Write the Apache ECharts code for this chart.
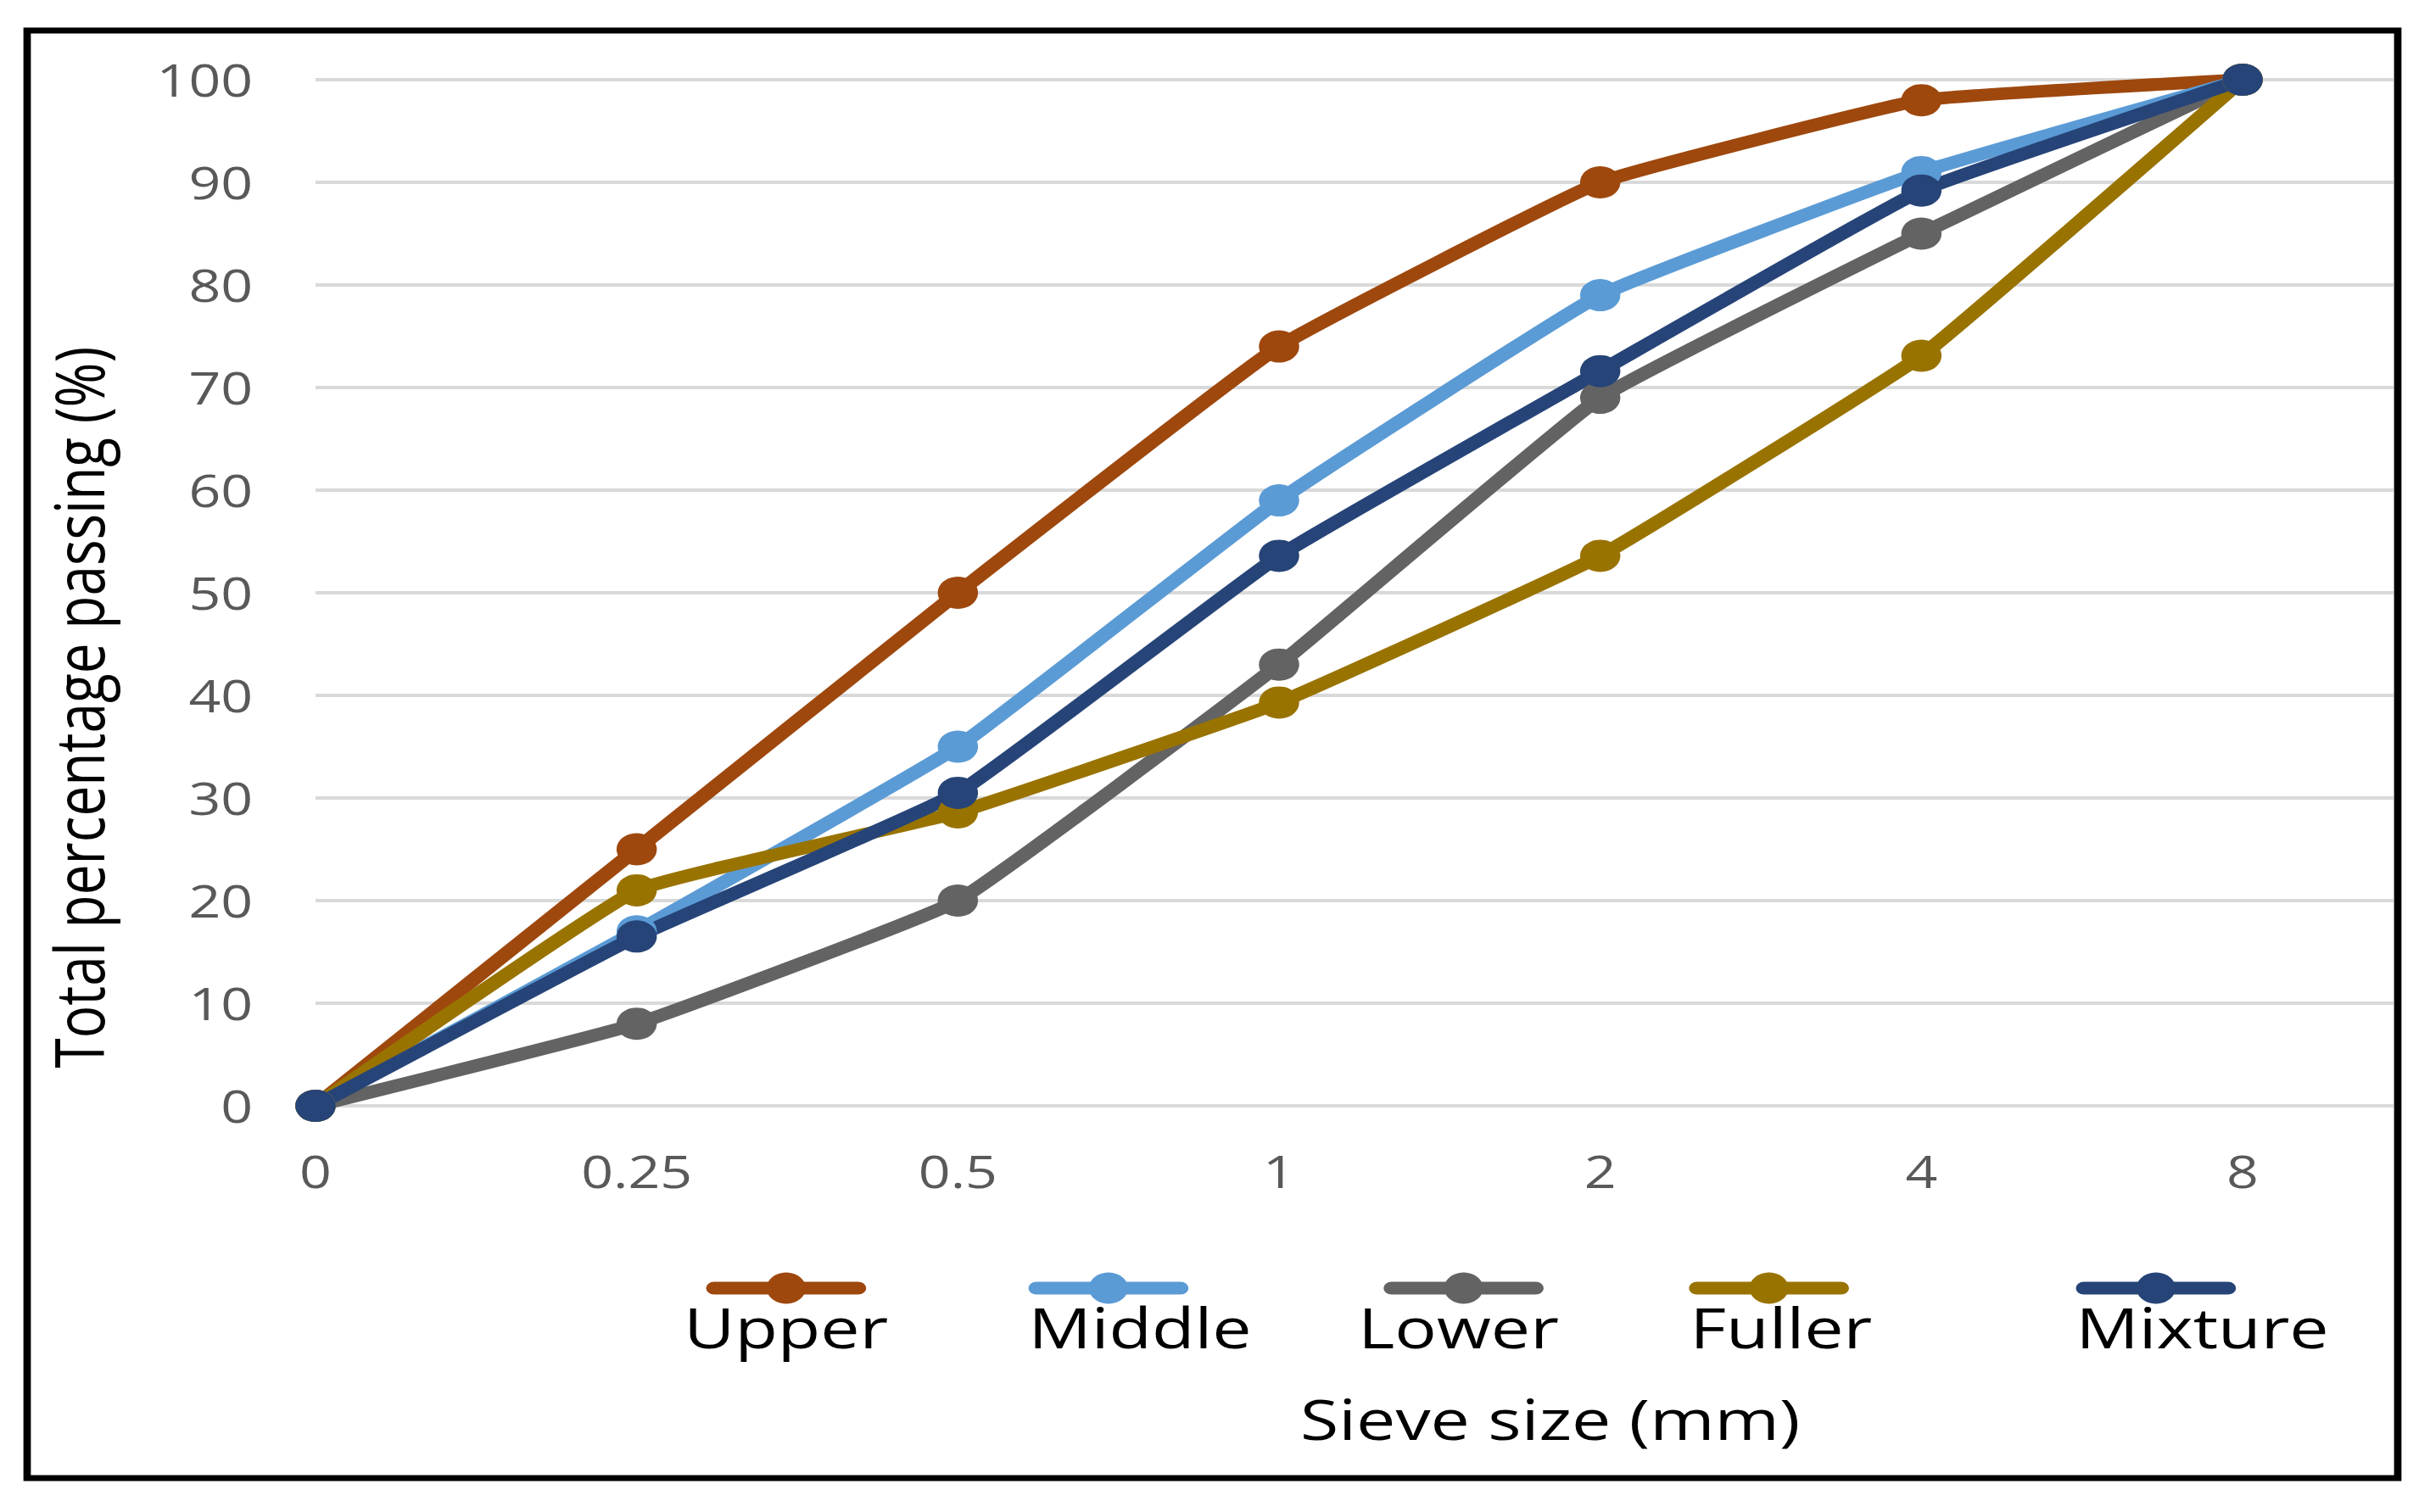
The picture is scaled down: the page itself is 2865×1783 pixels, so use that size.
<!DOCTYPE html>
<html>
<head>
<meta charset="utf-8">
<script src="https://cdn.jsdelivr.net/npm/echarts@6/dist/echarts.min.js"></script>
<style>
html, body { margin: 0; padding: 0; background: #ffffff; overflow: hidden; }
#wrap { width: 2865px; height: 1783px; overflow: hidden; position: relative; background: #ffffff; }
#chart { width: 2292px; height: 1783px; transform: scaleX(1.25); transform-origin: 0 0; }
</style>
</head>
<body>
<div id="wrap"><div id="chart"></div></div>
<script>
// ---- data ----
const sieveSizes = ['0', '0.25', '0.5', '1', '2', '4', '8'];
const upper   = [0, 25, 50, 74, 90, 98, 100];
const middle  = [0, 17, 35, 59, 79, 91, 100];
const lower   = [0, 8, 20, 43, 69, 85, 100];
const fuller  = [0, 21, 28.6, 39.3, 53.6, 73.1, 100];
const mixture = [0, 16.5, 30.5, 53.6, 71.6, 89.2, 100];
const seriesNames = ['Upper', 'Middle', 'Lower', 'Fuller', 'Mixture'];
const xTitle = 'Sieve size (mm)';
const yTitle = 'Total percentage passing (%)';

// ---- styles / layout (kept apart from data) ----
const seriesValues = [upper, middle, lower, fuller, mixture];
const seriesColors = ['#9E480E', '#5B9BD5', '#636363', '#997300', '#264478'];
const legendLeft = [666, 970, 1305, 1593, 1958];
const legendTextX = [645, 970, 1281, 1594, 1958];
const FONT = 'Open Sans';

const chart = echarts.init(document.getElementById('chart'), null, { renderer: 'svg' });

const series = seriesNames.map((name, k) => ({
  name: name,
  type: 'line',
  data: seriesValues[k].map((v, i) => [i, v]),
  smooth: 0.1,
  symbol: 'circle',
  symbolSize: 38,
  showSymbol: true,
  lineStyle: { color: seriesColors[k], width: 15 },
  itemStyle: { color: seriesColors[k], borderWidth: 0 },
  emphasis: { disabled: true },
  animation: false
}));

const legends = seriesNames.map((name, k) => ({
  data: [name],
  left: legendLeft[k],
  top: 1496,
  orient: 'horizontal',
  padding: 0,
  itemWidth: 136,
  itemHeight: 46,
  formatter: () => '',
  textStyle: { fontSize: 10 },
  lineStyle: { width: 15, cap: 'round' },
  itemStyle: { borderWidth: 0 }
}));

const legendTexts = seriesNames.map((name, k) => ({
  type: 'text',
  x: legendTextX[k],
  y: 1564,
  silent: true,
  style: {
    text: name,
    fill: '#000000',
    font: '66px "Open Sans"',
    fontSize: 66,
    fontFamily: FONT,
    textAlign: 'left',
    textVerticalAlign: 'middle',
    align: 'left',
    verticalAlign: 'middle'
  }
}));

const option = {
  backgroundColor: '#ffffff',
  animation: false,
  textStyle: { fontFamily: FONT },
  grid: {
    left: 297.6, right: 34.4, top: 94, bottom: 479,
    containLabel: false,
    outerBoundsMode: 'none'
  },
  legend: legends,
  xAxis: {
    type: 'value',
    min: 0,
    max: 6.47,
    interval: 1,
    axisLine: { show: false },
    axisTick: { show: false },
    splitLine: { show: false },
    axisLabel: {
      formatter: v => (Number.isInteger(v) && sieveSizes[v] !== undefined) ? sieveSizes[v] : '',
      color: '#595959',
      fontSize: 53,
      fontFamily: FONT,
      margin: 50
    },
    name: xTitle,
    nameLocation: 'middle',
    nameGap: 335,
    nameTextStyle: { color: '#000000', fontSize: 66, fontFamily: FONT, padding: [0, 0, 0, 369] }
  },
  yAxis: {
    type: 'value',
    min: 0,
    max: 100,
    interval: 10,
    axisLine: { show: false },
    axisTick: { show: false },
    splitLine: { show: true, lineStyle: { color: '#D9D9D9', width: 4 } },
    axisLabel: { color: '#595959', fontSize: 53, fontFamily: FONT, margin: 59 },
    name: yTitle,
    nameLocation: 'middle',
    nameGap: 192,
    nameTextStyle: { color: '#000000', fontSize: 64, fontFamily: FONT, padding: [0, 270, 0, 0] }
  },
  graphic: [
    {
      type: 'rect',
      silent: true,
      z: 100,
      shape: { x: 25.6, y: 36, width: 2236, height: 1707 },
      style: { fill: 'none', stroke: '#000000', lineWidth: 7 }
    }
  ].concat(legendTexts),
  series: series
};

chart.setOption(option);
</script>
</body>
</html>
